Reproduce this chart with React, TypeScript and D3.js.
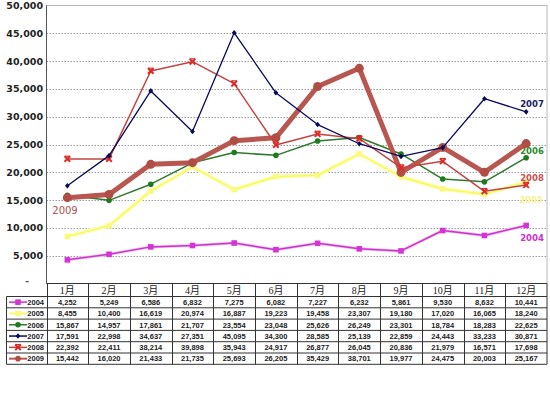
import React from "react";
import * as d3 from "d3";

const months = ["1月","2月","3月","4月","5月","6月","7月","8月","9月","10月","11月","12月"];
const years = ["2004","2005","2006","2007","2008","2009"];
const v2004 = [4252,5249,6586,6832,7275,6082,7227,6232,5861,9530,8632,10441];
const v2005 = [8455,10400,16619,20974,16887,19223,19458,23307,19180,17020,16065,18240];
const v2006 = [15867,14957,17861,21707,23554,23048,25626,26249,23301,18784,18283,22625];
const v2007 = [17591,22998,34637,27351,45095,34300,28585,25139,22859,24443,33233,30871];
const v2008 = [22392,22411,38214,39898,35943,24917,26877,26045,20836,21979,16571,17698];
const v2009 = [15442,16020,21433,21735,25693,26205,35429,38701,19977,24475,20003,25167];
const yTicks = [5000,10000,15000,20000,25000,30000,35000,40000,45000,50000];

type Style = { color: string; width: number; marker: string; mcolor: string; label: string; lx: number; ly: number; lsize: number; lweight: string };
const styles: Record<string, Style> = {
  "2004": { color: "#CC33CC", width: 1.5, marker: "square", mcolor: "#D633D6", label: "#CC33CC", lx: 532, ly: 241, lsize: 8.5, lweight: "bold" },
  "2005": { color: "#FAFA55", width: 1.6, marker: "square", mcolor: "#FAFA80", label: "#F4F490", lx: 531, ly: 203, lsize: 8.5, lweight: "bold" },
  "2006": { color: "#2E7A2E", width: 1.5, marker: "circle", mcolor: "#1E7A1E", label: "#2E8A2E", lx: 532, ly: 154, lsize: 8.5, lweight: "bold" },
  "2007": { color: "#0A0A5A", width: 1.3, marker: "diamond", mcolor: "#0A0A5A", label: "#1A1A6A", lx: 532, ly: 107, lsize: 8.5, lweight: "bold" },
  "2008": { color: "#C24444", width: 1.5, marker: "x", mcolor: "#E02828", label: "#C85050", lx: 532, ly: 181, lsize: 8.5, lweight: "bold" },
  "2009": { color: "#B8574F", width: 5, marker: "circle", mcolor: "#B04E46", label: "#B05050", lx: 65, ly: 214, lsize: 10, lweight: "normal" },
};
const seriesData: Record<string, number[]> = { "2004": v2004, "2005": v2005, "2006": v2006, "2007": v2007, "2008": v2008, "2009": v2009 };
const drawOrder = ["2005", "2004", "2006", "2009", "2008", "2007"];

function Marker({ kind, x, y, color, big }: { kind: string; x: number; y: number; color: string; big?: boolean }) {
  const s = big ? 1 : 0.8;
  if (kind === "square") return <rect x={x - 3.5 * s} y={y - 3.5 * s} width={7 * s} height={7 * s} fill={color} />;
  if (kind === "circle") return <circle cx={x} cy={y} r={(big ? 4.5 : 3.5) * s} fill={color} />;
  if (kind === "diamond") return <path d={`M${x},${y - 3.5 * s}L${x + 3 * s},${y}L${x},${y + 3.5 * s}L${x - 3 * s},${y}Z`} fill={color} />;
  return (
    <g stroke={color} strokeWidth={2}>
      <line x1={x - 3.5 * s} y1={y - 3.5 * s} x2={x + 3.5 * s} y2={y + 3.5 * s} />
      <line x1={x - 3.5 * s} y1={y + 3.5 * s} x2={x + 3.5 * s} y2={y - 3.5 * s} />
      <line x1={x - 3.5 * s} y1={y - 3.5 * s} x2={x + 3.5 * s} y2={y - 3.5 * s} strokeWidth={1.2} />
    </g>
  );
}

export default function App() {
  const W = 550, H = 394;
  const left = 46.5, right = 547;
  const x = d3.scaleBand<string>().domain(months).range([left, right]);
  const y = d3.scaleLinear().domain([0, 50000]).range([283.5, 5.5]);
  const fmt = d3.format(",");
  const line = d3.line<number>().x((_, i) => (x(months[i]) as number) + x.bandwidth() / 2).y((d) => y(d));
  const headTop = 283.5, headBot = 296.5, rowH = 11.3;
  const tableBot = headBot + rowH * years.length;
  return (
    <svg width={W} height={H} style={{ position: "absolute", left: 0, top: 0, background: "#fff" }}>
      <rect x={0} y={0} width={W} height={H} fill="#fff" />
      {yTicks.slice(0, -1).map((t) => (
        <line key={t} x1={left} x2={right} y1={Math.round(y(t)) + 0.5} y2={Math.round(y(t)) + 0.5} stroke="#9a9a9a" strokeDasharray="1.5,1.5" />
      ))}
      <rect x={left} y={5.5} width={right - left} height={283.5 - 5.5} fill="none" stroke="#b8b8b8" />
      <line x1={left} x2={left} y1={5.5} y2={headTop} stroke="#555" />
      {yTicks.map((t) => (
        <text key={t} x={43} y={y(t) + 3.5} textAnchor="end" fontFamily="DejaVu Sans" fontWeight="bold" fontSize={9.5} fill="#222">{fmt(t)}</text>
      ))}
      <text x={27} y={284} textAnchor="middle" fontFamily="DejaVu Sans" fontWeight="bold" fontSize={9} fill="#444">-</text>
      {drawOrder.map((yr) => {
        const st = styles[yr];
        const vals = seriesData[yr];
        return (
          <g key={yr}>
            {yr === "2005" && <path d={line(vals) || ""} fill="none" stroke="#FDFDC8" strokeWidth={4.5} strokeLinejoin="round" />}
            {yr === "2004" && <path d={line(vals) || ""} fill="none" stroke="#F2C2F2" strokeWidth={3} strokeLinejoin="round" />}
            <path d={line(vals) || ""} fill="none" stroke={st.color} strokeWidth={st.width} strokeLinejoin="round" />
            {vals.map((v, i) => (
              <Marker key={i} kind={st.marker} x={(x(months[i]) as number) + x.bandwidth() / 2} y={y(v)} color={st.mcolor} big={yr === "2009"} />
            ))}
            <text x={st.lx} y={st.ly} textAnchor="middle" fontFamily="DejaVu Sans" fontWeight={st.lweight} fontSize={st.lsize} fill={st.label}>{yr}</text>
          </g>
        );
      })}
      <g stroke="#333" strokeWidth={1} fill="none">
        <line x1={left} x2={right} y1={headTop} y2={headTop} />
        {years.map((_, i) => (
          <line key={i} x1={6.5} x2={right} y1={headBot + rowH * i} y2={headBot + rowH * i} />
        ))}
        <line x1={6.5} x2={right} y1={tableBot} y2={tableBot} />
        <line x1={6.5} x2={6.5} y1={headBot} y2={tableBot} />
        {months.map((m) => (
          <line key={m} x1={Math.round(x(m) as number) + 0.5} x2={Math.round(x(m) as number) + 0.5} y1={headTop} y2={tableBot} />
        ))}
        <line x1={right} x2={right} y1={headTop} y2={tableBot} />
      </g>
      {months.map((m) => (
        <text key={m} x={(x(m) as number) + x.bandwidth() / 2} y={headTop + 10} textAnchor="middle" fontFamily="Liberation Serif, Noto Sans CJK SC" fontSize={10} fill="#222">{m}</text>
      ))}
      {years.map((yr, r) => {
        const st = styles[yr];
        const cy = headBot + rowH * r + rowH / 2;
        return (
          <g key={yr}>
            <line x1={9} x2={27} y1={cy} y2={cy} stroke={st.color} strokeWidth={yr === "2009" ? 2 : 1.5} />
            <Marker kind={st.marker} x={18} y={cy} color={st.mcolor} />
            <text x={44} y={cy + 2.8} textAnchor="end" fontFamily="Liberation Sans" fontWeight="bold" fontSize={7.5} fill="#222">{yr}</text>
            {seriesData[yr].map((v, i) => (
              <text key={i} x={(x(months[i]) as number) + x.bandwidth() / 2} y={cy + 2.8} textAnchor="middle" fontFamily="Liberation Sans" fontWeight="bold" fontSize={7.5} fill="#222">{fmt(v)}</text>
            ))}
          </g>
        );
      })}
    </svg>
  );
}
